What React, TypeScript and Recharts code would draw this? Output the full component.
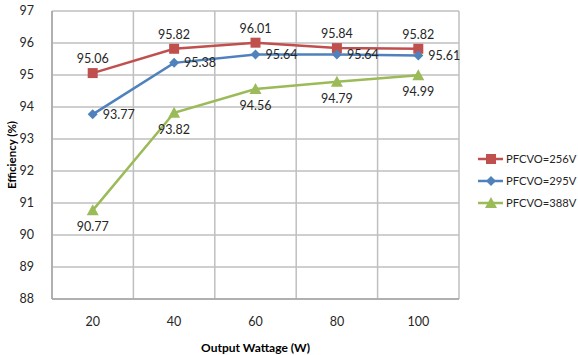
import { LineChart, Line, XAxis, YAxis, CartesianGrid, LabelList } from 'recharts';

const wattage = [20, 40, 60, 80, 100];
const pfc256 = [95.06, 95.82, 96.01, 95.84, 95.82];
const pfc295 = [93.77, 95.38, 95.64, 95.64, 95.61];
const pfc388 = [90.77, 93.82, 94.56, 94.79, 94.99];
const yTicks = [88, 89, 90, 91, 92, 93, 94, 95, 96, 97];

const RED = '#c0504d';
const BLUE = '#4f81bd';
const GREEN = '#9bbb59';
const FONT = 'Lato, "Open Sans", sans-serif';

const data = wattage.map((w, i) => ({
  w,
  a: pfc256[i],
  b: pfc295[i],
  c: pfc388[i],
}));

const Square = ({ cx, cy, index }: any) => (
  <rect key={`s${index}`} x={cx - 5} y={cy - 5} width={10} height={10} fill={RED} />
);
const Diamond = ({ cx, cy, index }: any) => (
  <path key={`d${index}`} d={`M${cx},${cy - 5}L${cx + 5},${cy}L${cx},${cy + 5}L${cx - 5},${cy}Z`} fill={BLUE} />
);
const Triangle = ({ cx, cy, index }: any) => (
  <path key={`t${index}`} d={`M${cx},${cy - 6}L${cx + 6},${cy + 5}L${cx - 6},${cy + 5}Z`} fill={GREEN} />
);

const legendItems = [
  { name: 'PFCVO=256V', color: RED, Mark: Square },
  { name: 'PFCVO=295V', color: BLUE, Mark: Diamond },
  { name: 'PFCVO=388V', color: GREEN, Mark: Triangle },
];

// legend drawn beside the chart, Excel style
const SideLegend = () => (
  <svg width={102} height={60} style={{ position: 'absolute', left: 476, top: 150 }}>
    {legendItems.map((it, i) => {
      const y = 9 + i * 22;
      return (
        <g key={it.name}>
          <line x1={2} x2={27} y1={y} y2={y} stroke={it.color} strokeWidth={2.5} />
          <it.Mark cx={15} cy={y} index={i} />
          <text x={30} y={y + 4} fontSize={11.2} fill="#262626" fontFamily={FONT}>
            {it.name}
          </text>
        </g>
      );
    })}
  </svg>
);

const labelStyle = { fontSize: 12.5, fill: '#262626', fontFamily: FONT };

export default function App() {
  return (
    <div style={{ position: 'absolute', left: 0, top: 0, width: 578, height: 355, background: '#fff' }}>
      <LineChart
        width={578}
        height={355}
        data={data}
        margin={{ top: 11, right: 119, bottom: 0, left: 0 }}
        style={{ fontFamily: FONT }}
      >
        <CartesianGrid
          stroke="#bfbfbf"
          strokeWidth={1.5}
          verticalCoordinatesGenerator={({ offset }: any) =>
            [0, 1, 2, 3, 4, 5].map((i) => offset.left + (i * offset.width) / 5)
          }
        />
        <XAxis
          dataKey="w"
          type="number"
          domain={[10, 110]}
          ticks={wattage}
          height={56}
          tickLine={false}
          axisLine={{ stroke: '#a6a6a6', strokeWidth: 1.5 }}
          tick={{ fontSize: 12.5, fill: '#262626' }}
          tickMargin={12}
          label={{
            value: 'Output Wattage (W)',
            position: 'insideBottom',
            offset: 3,
            style: { fontSize: 12, fontWeight: 'bold', fill: '#000' },
          }}
        />
        <YAxis
          domain={[88, 97]}
          ticks={yTicks}
          width={52}
          interval={0}
          tickLine={false}
          axisLine={{ stroke: '#a6a6a6', strokeWidth: 1.5 }}
          tick={{ fontSize: 12.5, fill: '#262626' }}
          tickMargin={12}
          label={{
            value: 'Efficiency (%)',
            angle: -90,
            position: 'insideLeft',
            offset: 12,
            style: { textAnchor: 'middle', fontSize: 11.5, fontWeight: 'bold', fill: '#000' },
          }}
        />
        <Line
          dataKey="a"
          name="PFCVO=256V"
          stroke={RED}
          strokeWidth={2.5}
          dot={Square}
          activeDot={false}
          isAnimationActive={false}
        >
          <LabelList dataKey="a" position="top" offset={10} style={labelStyle} />
        </Line>
        <Line
          dataKey="b"
          name="PFCVO=295V"
          stroke={BLUE}
          strokeWidth={2.5}
          dot={Diamond}
          activeDot={false}
          isAnimationActive={false}
        >
          <LabelList dataKey="b" position="right" offset={10} style={labelStyle} />
        </Line>
        <Line
          dataKey="c"
          name="PFCVO=388V"
          stroke={GREEN}
          strokeWidth={2.5}
          dot={Triangle}
          activeDot={false}
          isAnimationActive={false}
        >
          <LabelList dataKey="c" position="bottom" offset={12} style={labelStyle} />
        </Line>
      </LineChart>
      <SideLegend />
    </div>
  );
}
